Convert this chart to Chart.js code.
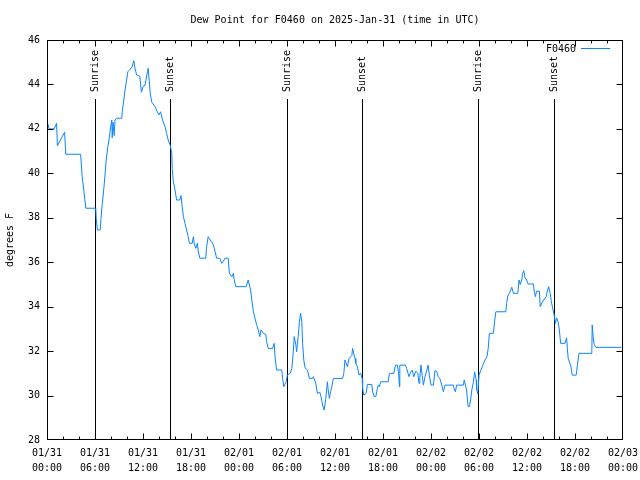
<!DOCTYPE html>
<html>
<head>
<meta charset="utf-8">
<title>Dew Point for F0460</title>
<script src="https://cdn.jsdelivr.net/npm/chart.js@4"></script>
<style>
  html, body { margin: 0; padding: 0; background: #ffffff; }
  canvas { display: block; }
</style>
</head>
<body>
<canvas id="myChart" width="640" height="480"></canvas>
<script>
// Hours since 01/31 00:00 UTC
const hours = [
  0.1, 0.25, 0.9, 1.2, 1.3, 2.2, 2.35, 4.2, 4.4, 4.6, 4.85, 6.1, 6.15, 6.3, 6.65, 6.75,
  6.9, 7.1, 7.25, 7.4, 7.6, 7.75, 7.9, 8.1, 8.15, 8.25, 8.4, 8.5, 8.7, 9.35, 9.4, 9.6,
  9.75, 9.95, 10.1, 10.4, 10.65, 10.85, 11.0, 11.2, 11.6, 11.8, 12.0, 12.25, 12.55, 12.65,
  12.9, 13.1, 13.5, 13.75, 14.0, 14.2, 14.45, 14.75, 14.95, 15.15, 15.4, 15.6, 15.65, 15.8,
  16.0, 16.2, 16.6, 16.75, 16.9, 17.05, 17.25, 17.45, 17.65, 17.8, 18.15, 18.3, 18.4, 18.6,
  18.8, 18.9, 19.1, 19.85, 19.95, 20.15, 20.4, 20.6, 20.8, 21.0, 21.2, 21.6, 21.85, 22.05,
  22.25, 22.65, 22.8, 23.1, 23.3, 23.4, 23.6, 24.9, 25.15, 25.45, 25.6, 25.8, 26.05, 26.2,
  26.4, 26.6, 26.75, 27.05, 27.35, 27.45, 27.65, 28.2, 28.4, 28.5, 28.7, 29.35, 29.45, 29.6,
  29.9, 30.05, 30.4, 30.6, 30.8, 30.9, 31.1, 31.2, 31.4, 31.55, 31.7, 31.85, 31.95, 32.1,
  32.25, 32.55, 32.8, 33.2, 33.3, 33.6, 33.8, 34.1, 34.25, 34.45, 34.65, 34.85, 35.05, 35.15,
  35.3, 35.45, 35.6, 35.8, 36.95, 37.1, 37.25, 37.4, 37.55, 37.75, 38.1, 38.2, 38.4, 38.5,
  38.6, 38.8, 39.0, 39.2, 39.4, 39.45, 39.6, 39.9, 40.05, 40.6, 40.7, 40.9, 41.1, 41.3,
  41.4, 41.55, 41.7, 42.65, 42.8, 43.35, 43.55, 43.8, 43.95, 44.05, 44.1, 44.8, 44.95, 45.25,
  45.45, 45.65, 45.85, 46.1, 46.35, 46.5, 46.6, 46.75, 46.9, 47.05, 47.25, 47.45, 47.65, 47.8,
  48.0, 48.3, 48.5, 48.7, 48.9, 49.1, 49.35, 49.55, 49.75, 50.8, 50.9, 51.05, 51.2, 52.05,
  52.15, 52.3, 52.45, 52.55, 52.65, 52.8, 52.95, 53.1, 53.3, 53.45, 53.65, 53.7, 53.85, 54.0,
  54.4, 54.75, 55.0, 55.15, 55.3, 55.8, 55.9, 56.1, 57.35, 57.45, 57.6, 57.8, 58.1, 58.3,
  58.85, 59.0, 59.15, 59.35, 59.45, 59.6, 59.75, 59.95, 60.15, 60.8, 60.9, 61.05, 61.2, 61.55,
  61.65, 61.9, 62.1, 62.4, 62.55, 62.7, 62.9, 63.05, 63.2, 63.4, 63.55, 63.7, 63.9, 64.05,
  64.2, 64.75, 64.95, 65.05, 65.15, 65.5, 65.65, 66.15, 66.3, 66.5, 68.1, 68.15, 68.3, 68.4,
  68.6, 71.8
];

// Dew point (degrees F) at each of the hours above
const dewPoint = [
  42.25, 42.0, 42.0, 42.25, 41.24, 41.85, 40.86, 40.86, 39.85, 39.25, 38.43, 38.43, 37.98, 37.45, 37.45, 37.98,
  38.6, 39.3, 39.92, 40.6, 41.2, 41.5, 41.95, 42.4, 41.6, 42.3, 41.7, 42.4, 42.48, 42.48, 42.77, 43.3,
  43.75, 44.2, 44.57, 44.68, 44.8, 45.07, 44.73, 44.43, 44.37, 43.65, 43.9, 43.97, 44.57, 44.73,
  43.6, 43.2, 43.0, 42.8, 42.63, 42.77, 42.4, 42.1, 41.8, 41.5, 41.27, 40.9, 40.23, 39.62,
  39.25, 38.8, 38.8, 39.0, 38.5, 38.05, 37.75, 37.45, 37.15, 36.85, 36.85, 37.15, 36.85, 36.63,
  36.85, 36.5, 36.18, 36.18, 36.7, 37.15, 37.0, 36.9, 36.78, 36.5, 36.18, 36.18, 35.95, 36.05,
  36.18, 36.18, 35.5, 35.35, 35.5, 35.2, 34.9, 34.9, 35.2, 34.75, 34.3, 33.77, 33.4, 33.2,
  32.95, 32.65, 32.95, 32.8, 32.75, 32.42, 32.12, 32.12, 32.35, 31.75, 31.15, 31.15, 30.77, 30.4,
  30.62, 30.93, 31.0, 31.22, 32.05, 32.65, 32.3, 31.97, 32.65, 33.32, 33.7, 33.32, 32.35, 31.6,
  31.25, 31.15, 30.77, 30.77, 30.85, 30.55, 30.1, 30.15, 29.95, 29.57, 29.35, 29.87, 30.62, 30.25,
  29.87, 30.17, 30.4, 30.77, 30.77, 31.0, 31.6, 31.45, 31.3, 31.67, 31.8, 32.12, 31.8, 31.67,
  31.45, 31.3, 30.92, 31.0, 30.77, 30.32, 30.02, 30.1, 30.5, 30.5, 30.17, 29.95, 29.95, 30.32,
  30.47, 30.4, 30.62, 30.62, 31.0, 31.0, 31.37, 31.37, 31.0, 30.4, 31.37, 31.37, 31.22, 30.85,
  31.05, 31.15, 30.85, 31.1, 31.0, 30.55, 30.8, 31.37, 30.9, 30.47, 30.85, 31.1, 31.37, 30.9,
  30.47, 30.47, 31.12, 31.1, 30.85, 30.77, 30.47, 30.17, 30.47, 30.47, 30.3, 30.17, 30.47, 30.47,
  30.7, 30.47, 30.25, 29.8, 29.5, 29.5, 29.8, 30.25, 30.6, 31.07, 30.7, 30.3, 30.07, 30.92,
  31.3, 31.6, 31.75, 32.12, 32.8, 32.8, 33.18, 33.77, 33.77, 34.15, 34.48, 34.6, 34.87, 34.6,
  34.6, 35.2, 35.0, 35.2, 35.5, 35.62, 35.3, 35.2, 35.02, 35.02, 34.7, 34.45, 34.7, 34.7,
  34.0, 34.2, 34.3, 34.45, 34.7, 34.9, 34.6, 34.22, 33.95, 33.62, 33.25, 33.5, 33.3, 32.95,
  32.35, 32.35, 32.6, 32.1, 31.67, 31.3, 30.92, 30.92, 31.37, 31.9, 31.9, 33.18, 32.5, 32.3,
  32.17, 32.17
];

// Tick labels for the x axis, one every 6 hours
const tickLabels = [
  ['01/31', '00:00'], ['01/31', '06:00'], ['01/31', '12:00'], ['01/31', '18:00'],
  ['02/01', '00:00'], ['02/01', '06:00'], ['02/01', '12:00'], ['02/01', '18:00'],
  ['02/02', '00:00'], ['02/02', '06:00'], ['02/02', '12:00'], ['02/02', '18:00'],
  ['02/03', '00:00']
];

// Sunrise / sunset markers (hours since 01/31 00:00)
const sunEventHours = [6.05, 15.4, 30.05, 39.4, 53.9, 63.4];
const sunEventLabels = ['Sunrise', 'Sunset', 'Sunrise', 'Sunset', 'Sunrise', 'Sunset'];

const FONT = '10px "DejaVu Sans Mono", monospace';

// Frame, inward ticks, sunrise/sunset lines, title and legend
const gnuplotLook = {
  id: 'gnuplotLook',
  beforeDatasetsDraw(chart) {
    const { ctx, chartArea: a, scales: { x } } = chart;
    ctx.save();
    ctx.strokeStyle = '#000';
    ctx.lineWidth = 1;
    ctx.fillStyle = '#000';
    ctx.font = FONT;
    sunEventHours.forEach((h, i) => {
      const px = Math.round(x.getPixelForValue(h)) + 0.5;
      ctx.beginPath();
      ctx.moveTo(px, a.top + 59);
      ctx.lineTo(px, a.bottom);
      ctx.stroke();
      ctx.save();
      ctx.translate(px, a.top + 52);
      ctx.rotate(-Math.PI / 2);
      ctx.textAlign = 'left';
      ctx.textBaseline = 'middle';
      ctx.fillText(sunEventLabels[i], 0, 0);
      ctx.restore();
    });
    ctx.restore();
  },
  afterDraw(chart) {
    const { ctx, chartArea: a, scales: { x, y } } = chart;
    ctx.save();
    ctx.strokeStyle = '#000';
    ctx.lineWidth = 1;
    const L = a.left + 0.5, R = a.right - 0.5, T = a.top + 0.5, B = a.bottom - 0.5;
    ctx.strokeRect(L, T, R - L, B - T);

    ctx.beginPath();
    // x ticks every 2 hours, longer every 6
    for (let h = 0; h <= 72; h += 2) {
      const px = Math.min(Math.max(Math.round(x.getPixelForValue(h)) + 0.5, L), R);
      const len = h % 6 === 0 ? 6 : 3;
      ctx.moveTo(px, B); ctx.lineTo(px, B - len);
      ctx.moveTo(px, T); ctx.lineTo(px, T + len);
    }
    // y ticks
    for (let v = 28; v <= 46; v += 2) {
      const py = Math.min(Math.max(Math.round(y.getPixelForValue(v)) + 0.5, T), B);
      ctx.moveTo(L, py); ctx.lineTo(L + 6, py);
      ctx.moveTo(R, py); ctx.lineTo(R - 6, py);
    }
    ctx.stroke();

    // title
    ctx.fillStyle = '#000';
    ctx.font = FONT;
    ctx.textAlign = 'center';
    ctx.textBaseline = 'middle';
    ctx.fillText('Dew Point for F0460 on 2025-Jan-31 (time in UTC)', (a.left + a.right) / 2, 20);

    // legend
    const ds = chart.data.datasets[0];
    ctx.textAlign = 'right';
    ctx.fillText(ds.label, a.right - 47, a.top + 9);
    ctx.strokeStyle = ds.borderColor;
    ctx.beginPath();
    ctx.moveTo(a.right - 42, a.top + 8.5);
    ctx.lineTo(a.right - 13, a.top + 8.5);
    ctx.stroke();
    ctx.restore();
  }
};

const ctx = document.getElementById('myChart');

new Chart(ctx, {
  type: 'line',
  data: {
    datasets: [{
      label: 'F0460',
      data: hours.map((h, i) => ({ x: h, y: dewPoint[i] })),
      borderColor: '#0a84ff',
      borderWidth: 1,
      pointRadius: 0,
      tension: 0,
      fill: false
    }]
  },
  options: {
    responsive: false,
    animation: false,
    layout: {
      autoPadding: false,
      padding: { top: 40, right: 17, left: 0, bottom: 0 }
    },
    plugins: {
      legend: { display: false },
      title: { display: false },
      tooltip: { enabled: false }
    },
    scales: {
      x: {
        type: 'linear',
        min: 0,
        max: 72,
        grid: { display: false, drawTicks: false },
        border: { display: false },
        afterFit: s => { s.height = 40; s.paddingLeft = 0; s.paddingRight = 0; },
        ticks: {
          stepSize: 6,
          autoSkip: false,
          maxRotation: 0,
          padding: 6,
          color: '#000',
          font: { family: '"DejaVu Sans Mono", monospace', size: 10, lineHeight: 1.5 },
          callback: (value, index) => tickLabels[index]
        }
      },
      y: {
        min: 28,
        max: 46,
        grid: { display: false, drawTicks: false },
        border: { display: false },
        afterFit: s => { s.width = 47; s.paddingTop = 0; s.paddingBottom = 0; },
        title: {
          display: true,
          text: 'degrees F',
          color: '#000',
          padding: { top: 4, bottom: 0 },
          font: { family: '"DejaVu Sans Mono", monospace', size: 10 }
        },
        ticks: {
          stepSize: 2,
          padding: 7,
          color: '#000',
          font: { family: '"DejaVu Sans Mono", monospace', size: 10 }
        }
      }
    }
  },
  plugins: [gnuplotLook]
});
</script>
</body>
</html>
